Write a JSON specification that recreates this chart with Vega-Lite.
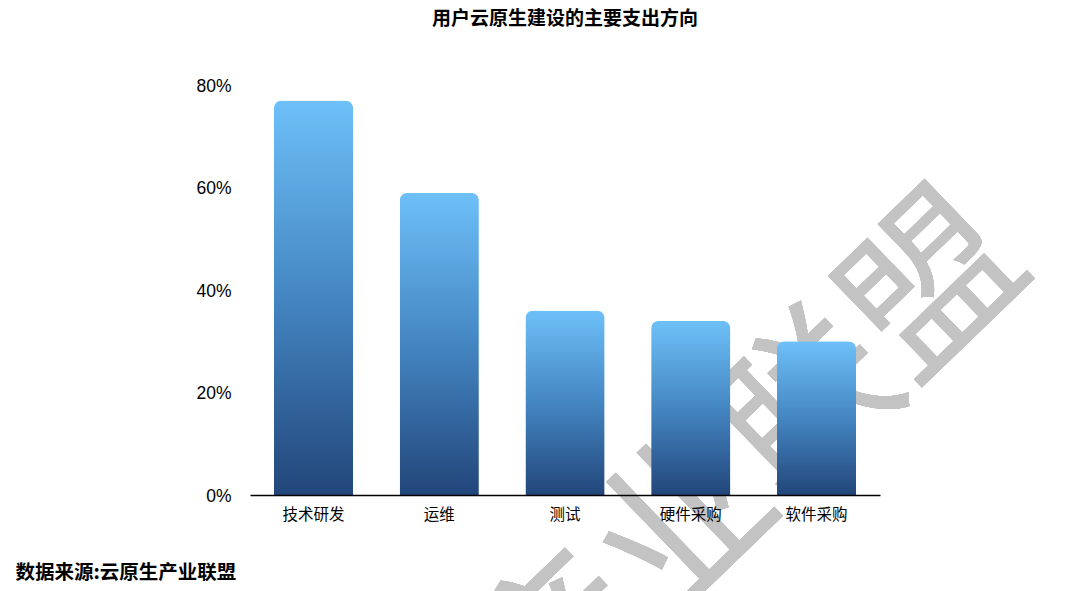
{
  "$schema": "https://vega.github.io/schema/vega-lite/v6.json",
  "width": 630,
  "height": 410,
  "autosize": {"type": "none"},
  "padding": {"left": 250, "top": 85, "right": 196, "bottom": 96},
  "background": "white",
  "title": {
    "text": "用户云原生建设的主要支出方向",
    "font": "Noto Sans CJK SC",
    "fontSize": 19,
    "fontWeight": "bold",
    "color": "#000000",
    "anchor": "middle",
    "offset": 48
  },
  "config": {
    "view": {"stroke": null},
    "axis": {"labelFont": "Liberation Sans", "labelColor": "#000000"}
  },
  "data": {
    "values": [
      {"方向": "技术研发", "比例": 0.77},
      {"方向": "运维", "比例": 0.59},
      {"方向": "测试", "比例": 0.36},
      {"方向": "硬件采购", "比例": 0.34},
      {"方向": "软件采购", "比例": 0.30}
    ]
  },
  "layer": [
    {
      "mark": {
        "type": "text",
        "text": "云原生产业联盟",
        "font": "Noto Sans CJK SC",
        "fontSize": 172,
        "angle": -44,
        "align": "center",
        "baseline": "middle",
        "fill": "#c3c3c3"
      },
      "encoding": {
        "x": {"datum": "测试", "band": 0.33},
        "y": {"datum": -0.297}
      }
    },
    {
      "mark": {
        "type": "bar",
        "cornerRadiusTopLeft": 8,
        "cornerRadiusTopRight": 8,
        "color": {
          "gradient": "linear",
          "x1": 0, "y1": 0, "x2": 0, "y2": 1,
          "stops": [
            {"offset": 0, "color": "#6ec0f8"},
            {"offset": 0.5, "color": "#4486c2"},
            {"offset": 1, "color": "#22467a"}
          ]
        }
      },
      "encoding": {
        "x": {
          "field": "方向",
          "type": "nominal",
          "sort": ["技术研发", "运维", "测试", "硬件采购", "软件采购"],
          "scale": {
            "domain": ["技术研发", "运维", "测试", "硬件采购", "软件采购"],
            "paddingInner": 0.37,
            "paddingOuter": 0.19
          },
          "axis": {
            "title": "数据来源:云原生产业联盟",
            "titleFont": "Noto Sans CJK SC",
            "titleFontSize": 19.5,
            "titleFontWeight": "bold",
            "titleColor": "#000000",
            "titleAlign": "left",
            "titleBaseline": "middle",
            "titleX": -235,
            "titleY": 77,
            "bandPosition": 0.5,
            "zindex": 1,
            "labelFont": "Noto Sans CJK SC",
            "labelFontSize": 15.5,
            "labelAngle": 0,
            "labelAlign": "center",
            "labelPadding": 19,
            "ticks": false,
            "domainColor": "#000000",
            "domainWidth": 1.5,
            "grid": false
          }
        },
        "y": {
          "field": "比例",
          "type": "quantitative",
          "scale": {"domain": [0, 0.8]},
          "axis": {
            "title": null,
            "values": [0, 0.2, 0.4, 0.6, 0.8],
            "format": ".0%",
            "labelFontSize": 17.5,
            "labelPadding": 19,
            "labelBaseline": "middle",
            "labelOffset": 1,
            "ticks": false,
            "domain": false,
            "gridColor": "#a8a8a8",
            "gridWidth": 1
          }
        }
      }
    }
  ]
}
